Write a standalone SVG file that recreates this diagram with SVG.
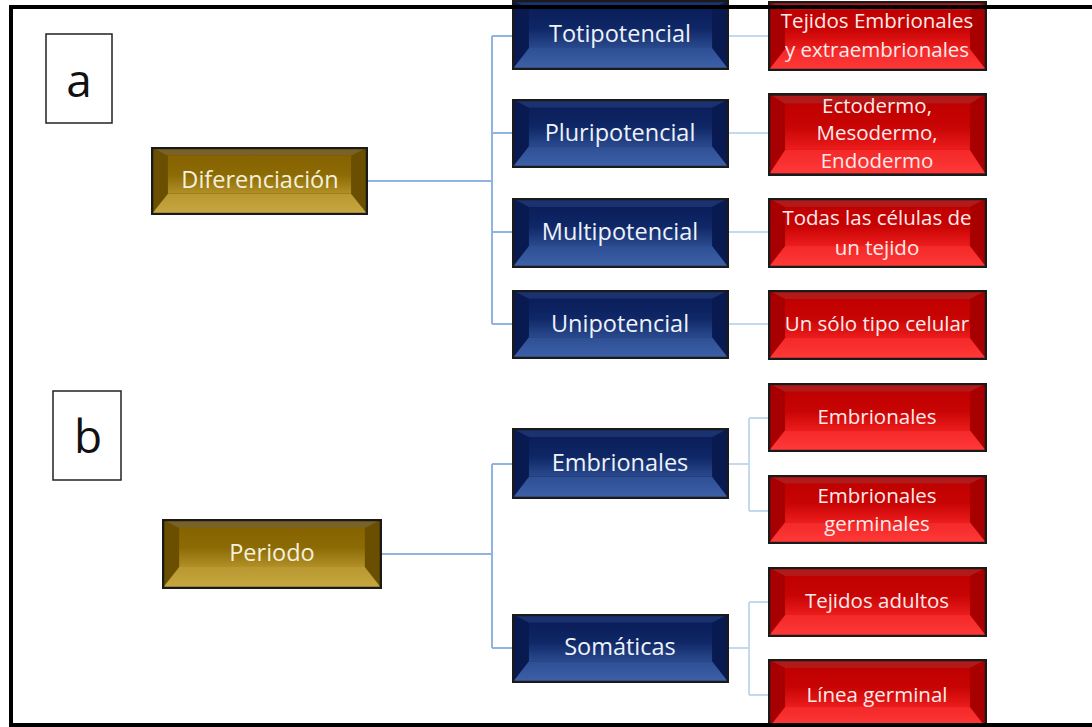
<svg xmlns="http://www.w3.org/2000/svg" width="1092" height="727" viewBox="0 0 1092 727">
<defs>
<linearGradient id="gC" x1="0" y1="0" x2="0" y2="1"><stop offset="0" stop-color="#866300"/><stop offset="0.5" stop-color="#8c6a04"/><stop offset="1" stop-color="#b29028"/></linearGradient>
<linearGradient id="gB" x1="0" y1="0" x2="0" y2="1"><stop offset="0" stop-color="#b8982f"/><stop offset="1" stop-color="#c7a842"/></linearGradient>
<linearGradient id="bC" x1="0" y1="0" x2="0" y2="1"><stop offset="0" stop-color="#0a1e5a"/><stop offset="0.5" stop-color="#0f2766"/><stop offset="1" stop-color="#2a4a8e"/></linearGradient>
<linearGradient id="bB" x1="0" y1="0" x2="0" y2="1"><stop offset="0" stop-color="#2e4f94"/><stop offset="1" stop-color="#3e61a8"/></linearGradient>
<linearGradient id="rC" x1="0" y1="0" x2="0" y2="1"><stop offset="0" stop-color="#c00000"/><stop offset="0.5" stop-color="#c80404"/><stop offset="1" stop-color="#ec1c1c"/></linearGradient>
<linearGradient id="rB" x1="0" y1="0" x2="0" y2="1"><stop offset="0" stop-color="#f42828"/><stop offset="1" stop-color="#ff3a3a"/></linearGradient>
<symbol id="gold" viewBox="0 0 218 70" preserveAspectRatio="none">
<rect x="0" y="0" width="218" height="70" fill="#6a4f00"/>
<polygon points="0,0 218,0 201,9 17,9" fill="#7a6226"/>
<polygon points="0,70 218,70 201,48 17,48" fill="url(#gB)"/>
<rect x="17" y="9" width="184" height="39" fill="url(#gC)"/>
<rect x="1" y="1" width="216" height="68" fill="none" stroke="#1a1a1a" stroke-width="2.5"/>
</symbol>
<symbol id="blue" viewBox="0 0 218 70" preserveAspectRatio="none">
<rect x="0" y="0" width="218" height="70" fill="#081a50"/>
<polygon points="0,0 218,0 201,9 17,9" fill="#1a3270"/>
<polygon points="0,70 218,70 201,48 17,48" fill="url(#bB)"/>
<rect x="17" y="9" width="184" height="39" fill="url(#bC)"/>
<rect x="1" y="1" width="216" height="68" fill="none" stroke="#1a1a1a" stroke-width="2.5"/>
</symbol>
<symbol id="red" viewBox="0 0 218 70" preserveAspectRatio="none">
<rect x="0" y="0" width="218" height="70" fill="#a80000"/>
<polygon points="0,0 218,0 201,9 17,9" fill="#b21a1a"/>
<polygon points="0,70 218,70 201,48 17,48" fill="url(#rB)"/>
<rect x="17" y="9" width="184" height="39" fill="url(#rC)"/>
<rect x="1" y="1" width="216" height="68" fill="none" stroke="#1a1a1a" stroke-width="2.5"/>
</symbol>
</defs>
<style>
.t{font-family:"Open Sans","Liberation Sans",sans-serif;text-anchor:middle;dominant-baseline:central;font-weight:500}
.tg{fill:#f4f0dc;font-size:23.5px}
.tb{fill:#eef2fa;font-size:23.5px}
.tr{fill:#fbeaea;font-size:20.5px}
.lbl{font-family:"Open Sans","Liberation Sans",sans-serif;font-size:46px;fill:#111;text-anchor:middle}
.c1{fill:none;stroke:#8fb4e0;stroke-width:2}
.c2{fill:none;stroke:#c4d8ef;stroke-width:2}
</style>
<rect width="1092" height="727" fill="#ffffff"/>

<g id="connectors">
<path class="c1" d="M368,181 H492 M492,36 V324 M492,36 H512 M492,133 H512 M492,232 H512 M492,324 H512"/>
<path class="c2" d="M729,36 H768 M729,133 H768 M729,232 H768 M729,324 H768"/>
<path class="c1" d="M382,554 H492 M492,464 V648 M492,464 H512 M492,648 H512"/>
<path class="c2" d="M729,464 H749 M749,418 V511 M749,418 H768 M749,511 H768 M729,648 H749 M749,602 V695 M749,602 H768 M749,695 H768"/>
</g>

<g id="label-a"><rect x="46" y="34" width="66" height="89" fill="#fff" stroke="#222" stroke-width="1.5"/><text class="lbl" x="79" y="97">a</text></g>
<g id="label-b"><rect x="53" y="391" width="68" height="89" fill="#fff" stroke="#222" stroke-width="1.5"/><text class="lbl" x="88" y="453">b</text></g>

<g id="n-diferenciacion"><use href="#gold" x="151" y="147" width="217" height="68"/><text class="t tg" x="260" y="179">Diferenciación</text></g>
<g id="n-periodo"><use href="#gold" x="162" y="519" width="220" height="70"/><text class="t tg" x="272" y="552">Periodo</text></g>

<g id="n-totipotencial"><use href="#blue" x="512" y="0" width="217" height="70"/><text class="t tb" x="620" y="33">Totipotencial</text></g>
<g id="n-pluripotencial"><use href="#blue" x="512" y="99" width="217" height="69"/><text class="t tb" x="620" y="132">Pluripotencial</text></g>
<g id="n-multipotencial"><use href="#blue" x="512" y="198" width="217" height="70"/><text class="t tb" x="620" y="231">Multipotencial</text></g>
<g id="n-unipotencial"><use href="#blue" x="512" y="290" width="217" height="69"/><text class="t tb" x="620" y="323">Unipotencial</text></g>
<g id="n-embrionales"><use href="#blue" x="512" y="428" width="217" height="71"/><text class="t tb" x="620" y="462">Embrionales</text></g>
<g id="n-somaticas"><use href="#blue" x="512" y="614" width="217" height="69"/><text class="t tb" x="620" y="646">Somáticas</text></g>

<g id="r-tejidos"><use href="#red" x="768" y="1" width="219" height="70"/><text class="t tr" x="877" y="20">Tejidos Embrionales</text><text class="t tr" x="877" y="49">y extraembrionales</text></g>
<g id="r-capas"><use href="#red" x="768" y="93" width="219" height="83"/><text class="t tr" x="877" y="105">Ectodermo,</text><text class="t tr" x="877" y="132">Mesodermo,</text><text class="t tr" x="877" y="160">Endodermo</text></g>
<g id="r-todas"><use href="#red" x="768" y="198" width="219" height="70"/><text class="t tr" x="877" y="217">Todas las células de</text><text class="t tr" x="877" y="247">un tejido</text></g>
<g id="r-unsolo"><use href="#red" x="768" y="290" width="219" height="70"/><text class="t tr" x="877" y="323">Un sólo tipo celular</text></g>
<g id="r-embrionales"><use href="#red" x="768" y="383" width="219" height="69"/><text class="t tr" x="877" y="416">Embrionales</text></g>
<g id="r-germinales"><use href="#red" x="768" y="475" width="219" height="69"/><text class="t tr" x="877" y="495">Embrionales</text><text class="t tr" x="877" y="523">germinales</text></g>
<g id="r-adultos"><use href="#red" x="768" y="567" width="219" height="70"/><text class="t tr" x="877" y="600">Tejidos adultos</text></g>
<g id="r-linea"><use href="#red" x="768" y="659" width="219" height="70"/><text class="t tr" x="877" y="694">Línea germinal</text></g>

<g id="frame"><path d="M1092,7 H11 V725 H1092" fill="none" stroke="#000" stroke-width="4"/></g>
</svg>
